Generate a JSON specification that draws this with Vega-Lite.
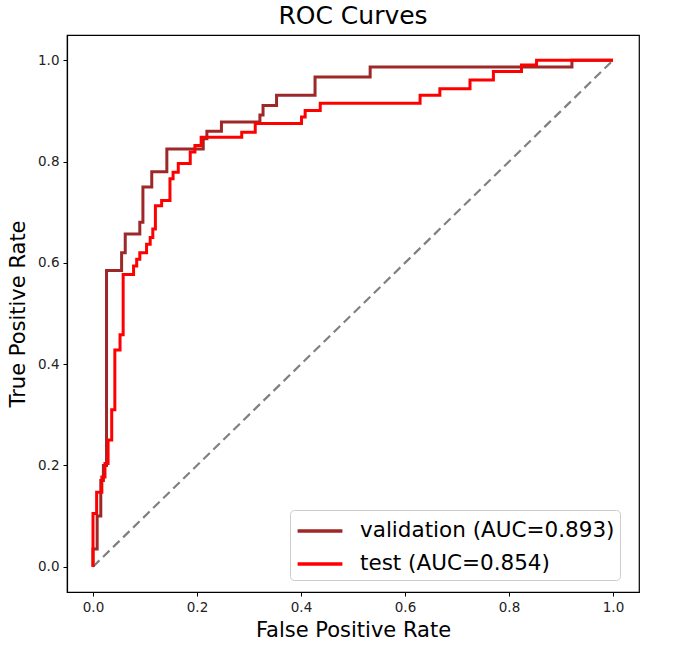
{
  "$schema": "https://vega.github.io/schema/vega-lite/v6.json",
  "width": 572,
  "height": 557,
  "autosize": {"type": "none"},
  "padding": {"left": 67, "top": 35, "right": 49, "bottom": 58},
  "background": "white",
  "title": {
    "text": "ROC Curves",
    "font": "DejaVu Sans",
    "fontSize": 25,
    "fontWeight": "normal",
    "color": "black",
    "anchor": "middle",
    "offset": 6
  },
  "config": {
    "view": {"stroke": "black", "strokeWidth": 1.2},
    "font": "DejaVu Sans",
    "axis": {
      "grid": false,
      "domainColor": "black",
      "domainWidth": 1.2,
      "tickColor": "black",
      "tickSize": 4,
      "tickWidth": 1,
      "labelFont": "DejaVu Sans",
      "labelFontSize": 13.5,
      "labelColor": "#222222",
      "labelPadding": 4,
      "titleFont": "DejaVu Sans",
      "titleFontSize": 21,
      "titleFontWeight": "normal",
      "titleColor": "black"
    }
  },
  "datasets": {
    "roc": [
      {"model": "validation (AUC=0.893)", "i": 0, "fpr": 0.0, "tpr": 0.0},
      {"model": "validation (AUC=0.893)", "i": 1, "fpr": 0.0, "tpr": 0.035},
      {"model": "validation (AUC=0.893)", "i": 2, "fpr": 0.008, "tpr": 0.035},
      {"model": "validation (AUC=0.893)", "i": 3, "fpr": 0.008, "tpr": 0.1},
      {"model": "validation (AUC=0.893)", "i": 4, "fpr": 0.015, "tpr": 0.1},
      {"model": "validation (AUC=0.893)", "i": 5, "fpr": 0.015, "tpr": 0.17},
      {"model": "validation (AUC=0.893)", "i": 6, "fpr": 0.02, "tpr": 0.17},
      {"model": "validation (AUC=0.893)", "i": 7, "fpr": 0.02, "tpr": 0.2},
      {"model": "validation (AUC=0.893)", "i": 8, "fpr": 0.026, "tpr": 0.2},
      {"model": "validation (AUC=0.893)", "i": 9, "fpr": 0.026, "tpr": 0.585},
      {"model": "validation (AUC=0.893)", "i": 10, "fpr": 0.055, "tpr": 0.585},
      {"model": "validation (AUC=0.893)", "i": 11, "fpr": 0.055, "tpr": 0.62},
      {"model": "validation (AUC=0.893)", "i": 12, "fpr": 0.062, "tpr": 0.62},
      {"model": "validation (AUC=0.893)", "i": 13, "fpr": 0.062, "tpr": 0.657},
      {"model": "validation (AUC=0.893)", "i": 14, "fpr": 0.09, "tpr": 0.657},
      {"model": "validation (AUC=0.893)", "i": 15, "fpr": 0.09, "tpr": 0.68},
      {"model": "validation (AUC=0.893)", "i": 16, "fpr": 0.096, "tpr": 0.68},
      {"model": "validation (AUC=0.893)", "i": 17, "fpr": 0.096, "tpr": 0.75},
      {"model": "validation (AUC=0.893)", "i": 18, "fpr": 0.113, "tpr": 0.75},
      {"model": "validation (AUC=0.893)", "i": 19, "fpr": 0.113, "tpr": 0.78},
      {"model": "validation (AUC=0.893)", "i": 20, "fpr": 0.142, "tpr": 0.78},
      {"model": "validation (AUC=0.893)", "i": 21, "fpr": 0.142, "tpr": 0.825},
      {"model": "validation (AUC=0.893)", "i": 22, "fpr": 0.212, "tpr": 0.825},
      {"model": "validation (AUC=0.893)", "i": 23, "fpr": 0.212, "tpr": 0.845},
      {"model": "validation (AUC=0.893)", "i": 24, "fpr": 0.219, "tpr": 0.845},
      {"model": "validation (AUC=0.893)", "i": 25, "fpr": 0.219, "tpr": 0.86},
      {"model": "validation (AUC=0.893)", "i": 26, "fpr": 0.247, "tpr": 0.86},
      {"model": "validation (AUC=0.893)", "i": 27, "fpr": 0.247, "tpr": 0.878},
      {"model": "validation (AUC=0.893)", "i": 28, "fpr": 0.321, "tpr": 0.878},
      {"model": "validation (AUC=0.893)", "i": 29, "fpr": 0.321, "tpr": 0.892},
      {"model": "validation (AUC=0.893)", "i": 30, "fpr": 0.327, "tpr": 0.892},
      {"model": "validation (AUC=0.893)", "i": 31, "fpr": 0.327, "tpr": 0.911},
      {"model": "validation (AUC=0.893)", "i": 32, "fpr": 0.353, "tpr": 0.911},
      {"model": "validation (AUC=0.893)", "i": 33, "fpr": 0.353, "tpr": 0.931},
      {"model": "validation (AUC=0.893)", "i": 34, "fpr": 0.427, "tpr": 0.931},
      {"model": "validation (AUC=0.893)", "i": 35, "fpr": 0.427, "tpr": 0.967},
      {"model": "validation (AUC=0.893)", "i": 36, "fpr": 0.533, "tpr": 0.967},
      {"model": "validation (AUC=0.893)", "i": 37, "fpr": 0.533, "tpr": 0.987},
      {"model": "validation (AUC=0.893)", "i": 38, "fpr": 0.921, "tpr": 0.987},
      {"model": "validation (AUC=0.893)", "i": 39, "fpr": 0.921, "tpr": 1.0},
      {"model": "validation (AUC=0.893)", "i": 40, "fpr": 1.0, "tpr": 1.0},
      {"model": "test (AUC=0.854)", "i": 0, "fpr": 0.0, "tpr": 0.0},
      {"model": "test (AUC=0.854)", "i": 1, "fpr": 0.0, "tpr": 0.105},
      {"model": "test (AUC=0.854)", "i": 2, "fpr": 0.007, "tpr": 0.105},
      {"model": "test (AUC=0.854)", "i": 3, "fpr": 0.007, "tpr": 0.147},
      {"model": "test (AUC=0.854)", "i": 4, "fpr": 0.017, "tpr": 0.147},
      {"model": "test (AUC=0.854)", "i": 5, "fpr": 0.017, "tpr": 0.177},
      {"model": "test (AUC=0.854)", "i": 6, "fpr": 0.023, "tpr": 0.177},
      {"model": "test (AUC=0.854)", "i": 7, "fpr": 0.023, "tpr": 0.204},
      {"model": "test (AUC=0.854)", "i": 8, "fpr": 0.029, "tpr": 0.204},
      {"model": "test (AUC=0.854)", "i": 9, "fpr": 0.029, "tpr": 0.25},
      {"model": "test (AUC=0.854)", "i": 10, "fpr": 0.036, "tpr": 0.25},
      {"model": "test (AUC=0.854)", "i": 11, "fpr": 0.036, "tpr": 0.31},
      {"model": "test (AUC=0.854)", "i": 12, "fpr": 0.042, "tpr": 0.31},
      {"model": "test (AUC=0.854)", "i": 13, "fpr": 0.042, "tpr": 0.428},
      {"model": "test (AUC=0.854)", "i": 14, "fpr": 0.052, "tpr": 0.428},
      {"model": "test (AUC=0.854)", "i": 15, "fpr": 0.052, "tpr": 0.458},
      {"model": "test (AUC=0.854)", "i": 16, "fpr": 0.058, "tpr": 0.458},
      {"model": "test (AUC=0.854)", "i": 17, "fpr": 0.058, "tpr": 0.577},
      {"model": "test (AUC=0.854)", "i": 18, "fpr": 0.078, "tpr": 0.577},
      {"model": "test (AUC=0.854)", "i": 19, "fpr": 0.078, "tpr": 0.594},
      {"model": "test (AUC=0.854)", "i": 20, "fpr": 0.084, "tpr": 0.594},
      {"model": "test (AUC=0.854)", "i": 21, "fpr": 0.084, "tpr": 0.607},
      {"model": "test (AUC=0.854)", "i": 22, "fpr": 0.09, "tpr": 0.607},
      {"model": "test (AUC=0.854)", "i": 23, "fpr": 0.09, "tpr": 0.62},
      {"model": "test (AUC=0.854)", "i": 24, "fpr": 0.103, "tpr": 0.62},
      {"model": "test (AUC=0.854)", "i": 25, "fpr": 0.103, "tpr": 0.637},
      {"model": "test (AUC=0.854)", "i": 26, "fpr": 0.11, "tpr": 0.637},
      {"model": "test (AUC=0.854)", "i": 27, "fpr": 0.11, "tpr": 0.65},
      {"model": "test (AUC=0.854)", "i": 28, "fpr": 0.115, "tpr": 0.65},
      {"model": "test (AUC=0.854)", "i": 29, "fpr": 0.115, "tpr": 0.667},
      {"model": "test (AUC=0.854)", "i": 30, "fpr": 0.12, "tpr": 0.667},
      {"model": "test (AUC=0.854)", "i": 31, "fpr": 0.12, "tpr": 0.713},
      {"model": "test (AUC=0.854)", "i": 32, "fpr": 0.132, "tpr": 0.713},
      {"model": "test (AUC=0.854)", "i": 33, "fpr": 0.132, "tpr": 0.723},
      {"model": "test (AUC=0.854)", "i": 34, "fpr": 0.148, "tpr": 0.723},
      {"model": "test (AUC=0.854)", "i": 35, "fpr": 0.148, "tpr": 0.766},
      {"model": "test (AUC=0.854)", "i": 36, "fpr": 0.154, "tpr": 0.766},
      {"model": "test (AUC=0.854)", "i": 37, "fpr": 0.154, "tpr": 0.779},
      {"model": "test (AUC=0.854)", "i": 38, "fpr": 0.164, "tpr": 0.779},
      {"model": "test (AUC=0.854)", "i": 39, "fpr": 0.164, "tpr": 0.796},
      {"model": "test (AUC=0.854)", "i": 40, "fpr": 0.187, "tpr": 0.796},
      {"model": "test (AUC=0.854)", "i": 41, "fpr": 0.187, "tpr": 0.819},
      {"model": "test (AUC=0.854)", "i": 42, "fpr": 0.196, "tpr": 0.819},
      {"model": "test (AUC=0.854)", "i": 43, "fpr": 0.196, "tpr": 0.832},
      {"model": "test (AUC=0.854)", "i": 44, "fpr": 0.208, "tpr": 0.832},
      {"model": "test (AUC=0.854)", "i": 45, "fpr": 0.208, "tpr": 0.848},
      {"model": "test (AUC=0.854)", "i": 46, "fpr": 0.286, "tpr": 0.848},
      {"model": "test (AUC=0.854)", "i": 47, "fpr": 0.286, "tpr": 0.858},
      {"model": "test (AUC=0.854)", "i": 48, "fpr": 0.312, "tpr": 0.858},
      {"model": "test (AUC=0.854)", "i": 49, "fpr": 0.312, "tpr": 0.875},
      {"model": "test (AUC=0.854)", "i": 50, "fpr": 0.401, "tpr": 0.875},
      {"model": "test (AUC=0.854)", "i": 51, "fpr": 0.401, "tpr": 0.888},
      {"model": "test (AUC=0.854)", "i": 52, "fpr": 0.408, "tpr": 0.888},
      {"model": "test (AUC=0.854)", "i": 53, "fpr": 0.408, "tpr": 0.901},
      {"model": "test (AUC=0.854)", "i": 54, "fpr": 0.437, "tpr": 0.901},
      {"model": "test (AUC=0.854)", "i": 55, "fpr": 0.437, "tpr": 0.915},
      {"model": "test (AUC=0.854)", "i": 56, "fpr": 0.629, "tpr": 0.915},
      {"model": "test (AUC=0.854)", "i": 57, "fpr": 0.629, "tpr": 0.931},
      {"model": "test (AUC=0.854)", "i": 58, "fpr": 0.667, "tpr": 0.931},
      {"model": "test (AUC=0.854)", "i": 59, "fpr": 0.667, "tpr": 0.944},
      {"model": "test (AUC=0.854)", "i": 60, "fpr": 0.725, "tpr": 0.944},
      {"model": "test (AUC=0.854)", "i": 61, "fpr": 0.725, "tpr": 0.961},
      {"model": "test (AUC=0.854)", "i": 62, "fpr": 0.77, "tpr": 0.961},
      {"model": "test (AUC=0.854)", "i": 63, "fpr": 0.77, "tpr": 0.978},
      {"model": "test (AUC=0.854)", "i": 64, "fpr": 0.824, "tpr": 0.978},
      {"model": "test (AUC=0.854)", "i": 65, "fpr": 0.824, "tpr": 0.991},
      {"model": "test (AUC=0.854)", "i": 66, "fpr": 0.853, "tpr": 0.991},
      {"model": "test (AUC=0.854)", "i": 67, "fpr": 0.853, "tpr": 1.0},
      {"model": "test (AUC=0.854)", "i": 68, "fpr": 1.0, "tpr": 1.0}
    ],
    "diag": [
      {"fpr": 0, "tpr": 0},
      {"fpr": 1, "tpr": 1}
    ]
  },
  "encoding": {
    "x": {
      "field": "fpr",
      "type": "quantitative",
      "title": "False Positive Rate",
      "scale": {"domain": [-0.05, 1.05], "nice": false, "zero": false},
      "axis": {"values": [0, 0.2, 0.4, 0.6, 0.8, 1.0], "format": ".1f", "titlePadding": 6}
    },
    "y": {
      "field": "tpr",
      "type": "quantitative",
      "title": "True Positive Rate",
      "scale": {"domain": [-0.05, 1.05], "nice": false, "zero": false},
      "axis": {"values": [0, 0.2, 0.4, 0.6, 0.8, 1.0], "format": ".1f", "titlePadding": 9}
    }
  },
  "layer": [
    {
      "data": {"name": "diag"},
      "mark": {"type": "line", "color": "#808080", "strokeWidth": 2.2, "strokeDash": [9, 5]},
      "encoding": {}
    },
    {
      "data": {"name": "roc"},
      "transform": [{"filter": "datum.model === 'validation (AUC=0.893)'"}],
      "mark": {"type": "line", "strokeWidth": 3, "interpolate": "linear"},
      "encoding": {
        "order": {"field": "i", "type": "quantitative"},
        "color": {
          "field": "model",
          "type": "nominal",
          "scale": {"domain": ["validation (AUC=0.893)", "test (AUC=0.854)"], "range": ["#9e2828", "#ff0000"]},
          "legend": {
            "title": null,
            "orient": "none",
            "legendX": 223,
            "legendY": 475,
            "symbolType": "M-1.6,0H1.6",
            "symbolSize": 784,
            "symbolStrokeWidth": 3.5,
            "symbolOffset": 9,
            "labelOffset": 24,
            "labelFont": "DejaVu Sans",
            "labelFontSize": 21.5,
            "labelColor": "black",
            "labelLimit": 400,
            "rowPadding": 6,
            "padding": 5,
            "strokeColor": "#cccccc",
            "fillColor": "rgba(255,255,255,0.8)",
            "cornerRadius": 4
          }
        }
      }
    },
    {
      "data": {"name": "roc"},
      "transform": [{"filter": "datum.model === 'test (AUC=0.854)'"}],
      "mark": {"type": "line", "strokeWidth": 3, "interpolate": "linear"},
      "encoding": {
        "order": {"field": "i", "type": "quantitative"},
        "color": {"field": "model", "type": "nominal"}
      }
    }
  ]
}
